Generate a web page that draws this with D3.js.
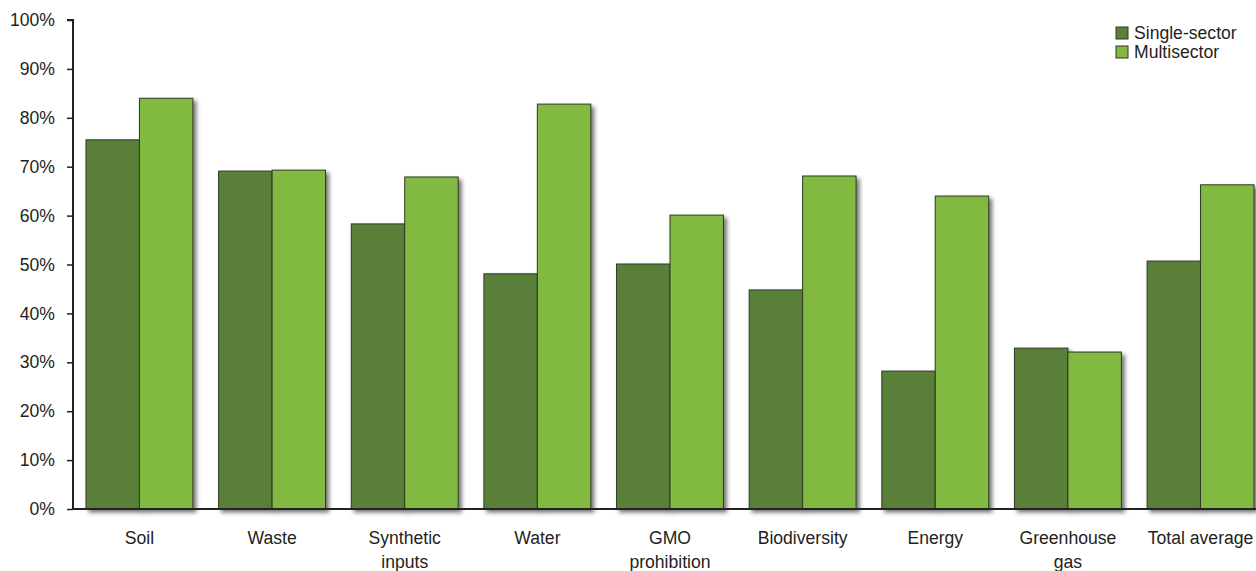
<!DOCTYPE html>
<html>
<head>
<meta charset="utf-8">
<script src="https://cdn.jsdelivr.net/npm/d3@7"></script>
<style>
  html, body { margin: 0; padding: 0; background: #fff; }
  svg { display: block; font-family: "Liberation Sans", Arial, Helvetica, sans-serif; }
</style>
</head>
<body>
<svg id="chart" width="1256" height="571"></svg>
<script>
// Share of items addressed, by topic and type of operation
const categories = ["Soil", "Waste", "Synthetic inputs", "Water", "GMO prohibition", "Biodiversity", "Energy", "Greenhouse gas", "Total average"];
const labelLines = [["Soil"], ["Waste"], ["Synthetic", "inputs"], ["Water"], ["GMO", "prohibition"], ["Biodiversity"], ["Energy"], ["Greenhouse", "gas"], ["Total average"]];
const singleSector = [75.5, 69.1, 58.3, 48.1, 50.1, 44.8, 28.2, 32.9, 50.7];
const multisector  = [84.0, 69.3, 67.9, 82.8, 60.1, 68.1, 64.0, 32.1, 66.3];
const seriesNames = ["Single-sector", "Multisector"];
const yTicks = [0, 10, 20, 30, 40, 50, 60, 70, 80, 90, 100];

const colors = ["#5a7f38", "#82b941"];
const fontSize = 17.6;

const svg = d3.select("#chart");
const x0 = 73, yTop = 20, yBottom = 509;

const x = d3.scaleBand().domain(categories).range([x0, 1267])
  .paddingInner(0.194).paddingOuter(0.098);
const xs = d3.scaleBand().domain(seriesNames).range([0, x.bandwidth()]);
const y = d3.scaleLinear().domain([0, 100]).range([yBottom, yTop]);

// soft drop shadow under each bar
const defs = svg.append("defs");
const f = defs.append("filter").attr("id", "shadow")
  .attr("x", "-20%").attr("y", "-10%").attr("width", "150%").attr("height", "130%");
f.append("feDropShadow").attr("dx", 3).attr("dy", 3).attr("stdDeviation", 2.2)
  .attr("flood-color", "#000").attr("flood-opacity", 0.55);

const rows = categories.map((c, i) => ({ c, vals: [singleSector[i], multisector[i]] }));

const groups = svg.append("g").selectAll("g").data(rows).join("g")
  .attr("transform", d => `translate(${x(d.c)},0)`);

groups.selectAll("rect")
  .data(d => d.vals.map((v, k) => ({ k, v })))
  .join("rect")
  .attr("x", d => xs(seriesNames[d.k]))
  .attr("y", d => y(d.v))
  .attr("width", xs.bandwidth())
  .attr("height", d => yBottom - y(d.v))
  .attr("fill", d => colors[d.k])
  .attr("stroke", "#2f3a26")
  .attr("stroke-width", 1)
  .attr("filter", "url(#shadow)");

// y axis
const yAxis = d3.axisLeft(y).tickValues(yTicks).tickFormat(d => d + "%").tickSize(6).tickPadding(12);
const gy = svg.append("g").attr("transform", `translate(${x0},0)`).call(yAxis);
gy.select(".domain").attr("stroke", "#222").attr("stroke-width", 2).attr("d", `M-6,${yTop}H0V${yBottom}`);
gy.selectAll(".tick line").attr("stroke", "#222").attr("stroke-width", 1.5);
gy.selectAll(".tick text").attr("font-size", fontSize).attr("fill", "#231f20")
  .attr("font-family", "'Liberation Sans', Arial, sans-serif");

// x axis baseline
svg.append("line").attr("x1", x0 - 1).attr("x2", 1256).attr("y1", yBottom).attr("y2", yBottom)
  .attr("stroke", "#222").attr("stroke-width", 2);

// category labels
const lbl = svg.append("g").selectAll("text").data(categories).join("text")
  .attr("text-anchor", "middle")
  .attr("font-size", fontSize).attr("fill", "#231f20")
  .attr("x", d => x(d) + x.bandwidth() / 2)
  .attr("y", 544);
lbl.each(function(d, i) {
  const t = d3.select(this);
  labelLines[i].forEach((line, j) => {
    t.append("tspan").attr("x", x(d) + x.bandwidth() / 2).attr("dy", j === 0 ? 0 : 24).text(line);
  });
});

// legend
const lg = svg.append("g").attr("transform", "translate(1116,27)");
seriesNames.forEach((n, i) => {
  lg.append("rect").attr("x", 0).attr("y", i * 19).attr("width", 12).attr("height", 12)
    .attr("fill", colors[i]).attr("stroke", "#2f3a26").attr("stroke-width", 1);
  lg.append("text").attr("x", 18).attr("y", i * 19 + 12).attr("font-size", fontSize).attr("fill", "#231f20").text(n);
});
</script>
</body>
</html>
